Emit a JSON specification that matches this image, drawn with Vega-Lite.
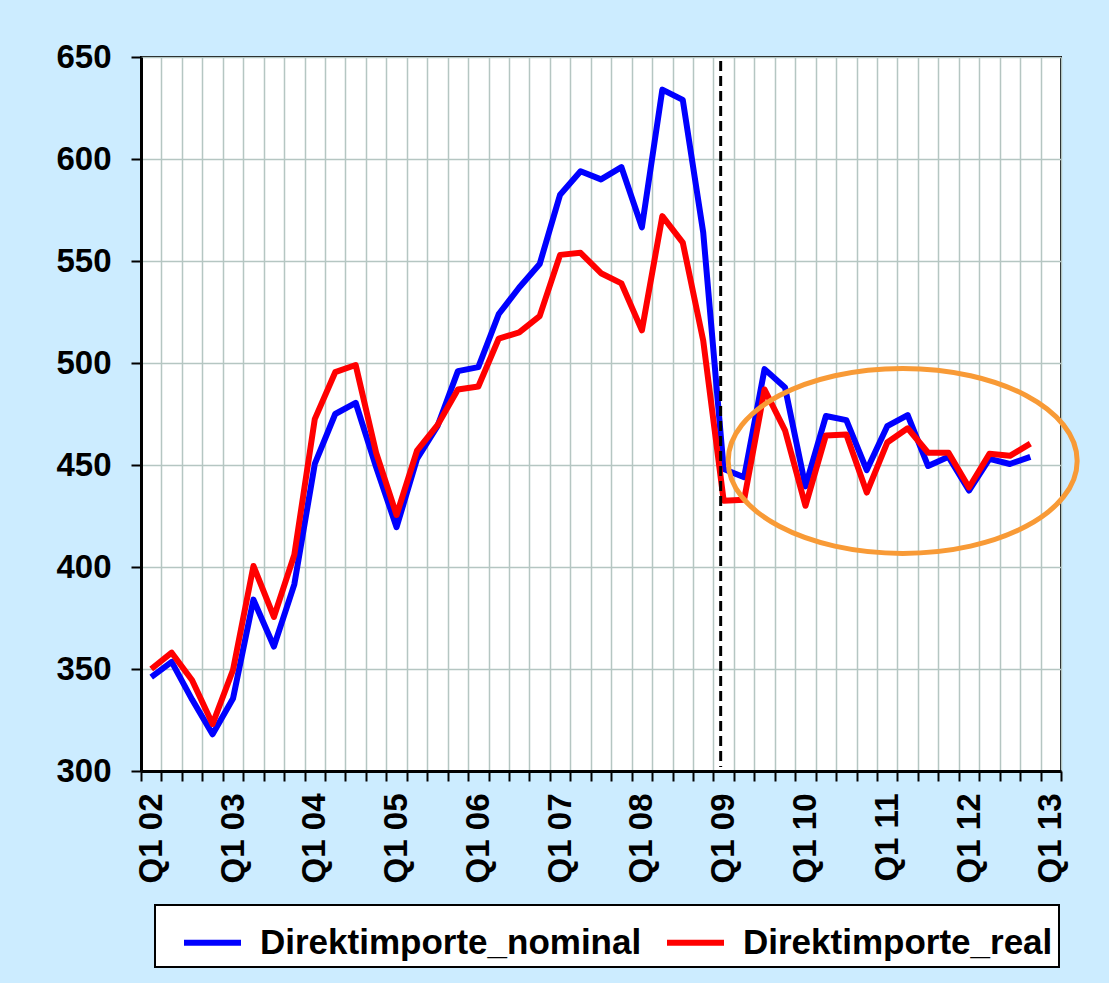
{
  "$schema": "https://vega.github.io/schema/vega-lite/v6.json",
  "autosize": {"type": "none"},
  "padding": {"left": 141, "top": 57, "right": 48, "bottom": 212},
  "width": 920,
  "height": 714,
  "background": "#CCECFF",
  "config": {
    "font": "Liberation Sans",
    "view": {"fill": "white", "stroke": "black", "strokeWidth": 2}
  },
  "datasets": {
    "series": [
      {"q": "Q1 02", "serie": "Direktimporte_nominal", "wert": 346},
      {"q": "Q2 02", "serie": "Direktimporte_nominal", "wert": 353.5},
      {"q": "Q3 02", "serie": "Direktimporte_nominal", "wert": 335},
      {"q": "Q4 02", "serie": "Direktimporte_nominal", "wert": 318},
      {"q": "Q1 03", "serie": "Direktimporte_nominal", "wert": 335.5},
      {"q": "Q2 03", "serie": "Direktimporte_nominal", "wert": 384},
      {"q": "Q3 03", "serie": "Direktimporte_nominal", "wert": 361},
      {"q": "Q4 03", "serie": "Direktimporte_nominal", "wert": 391.5},
      {"q": "Q1 04", "serie": "Direktimporte_nominal", "wert": 450.5},
      {"q": "Q2 04", "serie": "Direktimporte_nominal", "wert": 475},
      {"q": "Q3 04", "serie": "Direktimporte_nominal", "wert": 480.5},
      {"q": "Q4 04", "serie": "Direktimporte_nominal", "wert": 449},
      {"q": "Q1 05", "serie": "Direktimporte_nominal", "wert": 419.5},
      {"q": "Q2 05", "serie": "Direktimporte_nominal", "wert": 453},
      {"q": "Q3 05", "serie": "Direktimporte_nominal", "wert": 469},
      {"q": "Q4 05", "serie": "Direktimporte_nominal", "wert": 496},
      {"q": "Q1 06", "serie": "Direktimporte_nominal", "wert": 498},
      {"q": "Q2 06", "serie": "Direktimporte_nominal", "wert": 524},
      {"q": "Q3 06", "serie": "Direktimporte_nominal", "wert": 537},
      {"q": "Q4 06", "serie": "Direktimporte_nominal", "wert": 548.5},
      {"q": "Q1 07", "serie": "Direktimporte_nominal", "wert": 582.5},
      {"q": "Q2 07", "serie": "Direktimporte_nominal", "wert": 594},
      {"q": "Q3 07", "serie": "Direktimporte_nominal", "wert": 590},
      {"q": "Q4 07", "serie": "Direktimporte_nominal", "wert": 596},
      {"q": "Q1 08", "serie": "Direktimporte_nominal", "wert": 566.5},
      {"q": "Q2 08", "serie": "Direktimporte_nominal", "wert": 634},
      {"q": "Q3 08", "serie": "Direktimporte_nominal", "wert": 629},
      {"q": "Q4 08", "serie": "Direktimporte_nominal", "wert": 564},
      {"q": "Q1 09", "serie": "Direktimporte_nominal", "wert": 448},
      {"q": "Q2 09", "serie": "Direktimporte_nominal", "wert": 444},
      {"q": "Q3 09", "serie": "Direktimporte_nominal", "wert": 497},
      {"q": "Q4 09", "serie": "Direktimporte_nominal", "wert": 488},
      {"q": "Q1 10", "serie": "Direktimporte_nominal", "wert": 439.5},
      {"q": "Q2 10", "serie": "Direktimporte_nominal", "wert": 474},
      {"q": "Q3 10", "serie": "Direktimporte_nominal", "wert": 472},
      {"q": "Q4 10", "serie": "Direktimporte_nominal", "wert": 447.5},
      {"q": "Q1 11", "serie": "Direktimporte_nominal", "wert": 469},
      {"q": "Q2 11", "serie": "Direktimporte_nominal", "wert": 474.5},
      {"q": "Q3 11", "serie": "Direktimporte_nominal", "wert": 449.5},
      {"q": "Q4 11", "serie": "Direktimporte_nominal", "wert": 454},
      {"q": "Q1 12", "serie": "Direktimporte_nominal", "wert": 437.5},
      {"q": "Q2 12", "serie": "Direktimporte_nominal", "wert": 453},
      {"q": "Q3 12", "serie": "Direktimporte_nominal", "wert": 450.5},
      {"q": "Q4 12", "serie": "Direktimporte_nominal", "wert": 454},
      {"q": "Q1 02", "serie": "Direktimporte_real", "wert": 350},
      {"q": "Q2 02", "serie": "Direktimporte_real", "wert": 358},
      {"q": "Q3 02", "serie": "Direktimporte_real", "wert": 344.5},
      {"q": "Q4 02", "serie": "Direktimporte_real", "wert": 323},
      {"q": "Q1 03", "serie": "Direktimporte_real", "wert": 349.5},
      {"q": "Q2 03", "serie": "Direktimporte_real", "wert": 400.5},
      {"q": "Q3 03", "serie": "Direktimporte_real", "wert": 375.5},
      {"q": "Q4 03", "serie": "Direktimporte_real", "wert": 406},
      {"q": "Q1 04", "serie": "Direktimporte_real", "wert": 472.5},
      {"q": "Q2 04", "serie": "Direktimporte_real", "wert": 495.5},
      {"q": "Q3 04", "serie": "Direktimporte_real", "wert": 499},
      {"q": "Q4 04", "serie": "Direktimporte_real", "wert": 456},
      {"q": "Q1 05", "serie": "Direktimporte_real", "wert": 425.5},
      {"q": "Q2 05", "serie": "Direktimporte_real", "wert": 457},
      {"q": "Q3 05", "serie": "Direktimporte_real", "wert": 469.5},
      {"q": "Q4 05", "serie": "Direktimporte_real", "wert": 487},
      {"q": "Q1 06", "serie": "Direktimporte_real", "wert": 488.5},
      {"q": "Q2 06", "serie": "Direktimporte_real", "wert": 512},
      {"q": "Q3 06", "serie": "Direktimporte_real", "wert": 515},
      {"q": "Q4 06", "serie": "Direktimporte_real", "wert": 523},
      {"q": "Q1 07", "serie": "Direktimporte_real", "wert": 553},
      {"q": "Q2 07", "serie": "Direktimporte_real", "wert": 554},
      {"q": "Q3 07", "serie": "Direktimporte_real", "wert": 544},
      {"q": "Q4 07", "serie": "Direktimporte_real", "wert": 539},
      {"q": "Q1 08", "serie": "Direktimporte_real", "wert": 516},
      {"q": "Q2 08", "serie": "Direktimporte_real", "wert": 572},
      {"q": "Q3 08", "serie": "Direktimporte_real", "wert": 559},
      {"q": "Q4 08", "serie": "Direktimporte_real", "wert": 511},
      {"q": "Q1 09", "serie": "Direktimporte_real", "wert": 432.5},
      {"q": "Q2 09", "serie": "Direktimporte_real", "wert": 433},
      {"q": "Q3 09", "serie": "Direktimporte_real", "wert": 487},
      {"q": "Q4 09", "serie": "Direktimporte_real", "wert": 467},
      {"q": "Q1 10", "serie": "Direktimporte_real", "wert": 430},
      {"q": "Q2 10", "serie": "Direktimporte_real", "wert": 464.5},
      {"q": "Q3 10", "serie": "Direktimporte_real", "wert": 465},
      {"q": "Q4 10", "serie": "Direktimporte_real", "wert": 436.5},
      {"q": "Q1 11", "serie": "Direktimporte_real", "wert": 461},
      {"q": "Q2 11", "serie": "Direktimporte_real", "wert": 468},
      {"q": "Q3 11", "serie": "Direktimporte_real", "wert": 456},
      {"q": "Q4 11", "serie": "Direktimporte_real", "wert": 456},
      {"q": "Q1 12", "serie": "Direktimporte_real", "wert": 439},
      {"q": "Q2 12", "serie": "Direktimporte_real", "wert": 455.5},
      {"q": "Q3 12", "serie": "Direktimporte_real", "wert": 454.5},
      {"q": "Q4 12", "serie": "Direktimporte_real", "wert": 460.5}
    ],
    "marker": [{"q": "Q1 09"}],
    "kreis": [{"q": "Q2 11", "wert": 452}]
  },
  "encoding": {
    "x": {
      "field": "q",
      "type": "ordinal",
      "sort": null,
      "scale": {
        "type": "band",
        "paddingInner": 0,
        "paddingOuter": 0,
        "domain": ["Q1 02","Q2 02","Q3 02","Q4 02","Q1 03","Q2 03","Q3 03","Q4 03","Q1 04","Q2 04","Q3 04","Q4 04","Q1 05","Q2 05","Q3 05","Q4 05","Q1 06","Q2 06","Q3 06","Q4 06","Q1 07","Q2 07","Q3 07","Q4 07","Q1 08","Q2 08","Q3 08","Q4 08","Q1 09","Q2 09","Q3 09","Q4 09","Q1 10","Q2 10","Q3 10","Q4 10","Q1 11","Q2 11","Q3 11","Q4 11","Q1 12","Q2 12","Q3 12","Q4 12","Q1 13"]
      },
      "axis": {
        "title": null,
        "tickBand": "extent",
        "grid": true,
        "gridColor": "#B5C6C2",
        "gridWidth": 1.5,
        "domainColor": "black",
        "domainWidth": 3,
        "tickColor": "black",
        "tickWidth": 2,
        "tickSize": 10,
        "labelAngle": -90,
        "labelAlign": "right",
        "labelBaseline": "middle",
        "labelPadding": 12,
        "labelFont": "Liberation Sans",
        "labelFontSize": 33,
        "labelFontWeight": "bold",
        "labelColor": "black",
        "labelOverlap": false,
        "labelExpr": "slice(datum.label, 0, 2) == 'Q1' ? datum.label : ''"
      }
    }
  },
  "layer": [
    {
      "data": {"name": "series"},
      "mark": {"type": "line", "strokeWidth": 6, "strokeJoin": "round"},
      "encoding": {
        "y": {
          "field": "wert",
          "type": "quantitative",
          "scale": {"domain": [300, 650], "nice": false, "zero": false},
          "axis": {
            "title": null,
            "values": [300, 350, 400, 450, 500, 550, 600, 650],
            "grid": true,
            "gridColor": "#B5C6C2",
            "gridWidth": 1.5,
            "domainColor": "black",
            "domainWidth": 3,
            "tickColor": "black",
            "tickWidth": 2,
            "tickSize": 10,
            "labelPadding": 20,
            "labelFont": "Liberation Sans",
            "labelFontSize": 33,
            "labelFontWeight": "bold",
            "labelColor": "black"
          }
        },
        "color": {
          "field": "serie",
          "type": "nominal",
          "scale": {"domain": ["Direktimporte_nominal", "Direktimporte_real"], "range": ["#0000FF", "#FF0000"]},
          "legend": {
            "title": null,
            "orient": "none",
            "direction": "horizontal",
            "legendX": 14,
            "legendY": 848,
            "fillColor": "white",
            "strokeColor": "black",
            "padding": 6,
            "symbolType": "stroke",
            "symbolSize": 3249,
            "symbolStrokeWidth": 6,
            "symbolOffset": 20,
            "labelFont": "Liberation Sans",
            "labelFontSize": 35,
            "labelFontWeight": "bold",
            "labelColor": "black",
            "labelOffset": 16,
            "labelLimit": 600,
            "columnPadding": 2,
            "encode": {"legend": {"update": {"strokeWidth": {"value": 2}}}}
          }
        }
      }
    },
    {
      "data": {"name": "marker"},
      "mark": {"type": "rule", "color": "black", "strokeWidth": 3, "strokeDash": [10, 5], "xOffset": -3},
      "encoding": {
        "y": {"datum": 648, "type": "quantitative"},
        "y2": {"datum": 302}
      }
    },
    {
      "data": {"name": "kreis"},
      "mark": {
        "type": "point",
        "shape": "M-1,0A1,0.53,0,1,1,1,0A1,0.53,0,1,1,-1,0Z",
        "size": 121800,
        "filled": false,
        "stroke": "#F89A36",
        "strokeWidth": 5,
        "opacity": 1,
        "xOffset": -5
      },
      "encoding": {
        "y": {"field": "wert", "type": "quantitative"}
      }
    }
  ]
}
